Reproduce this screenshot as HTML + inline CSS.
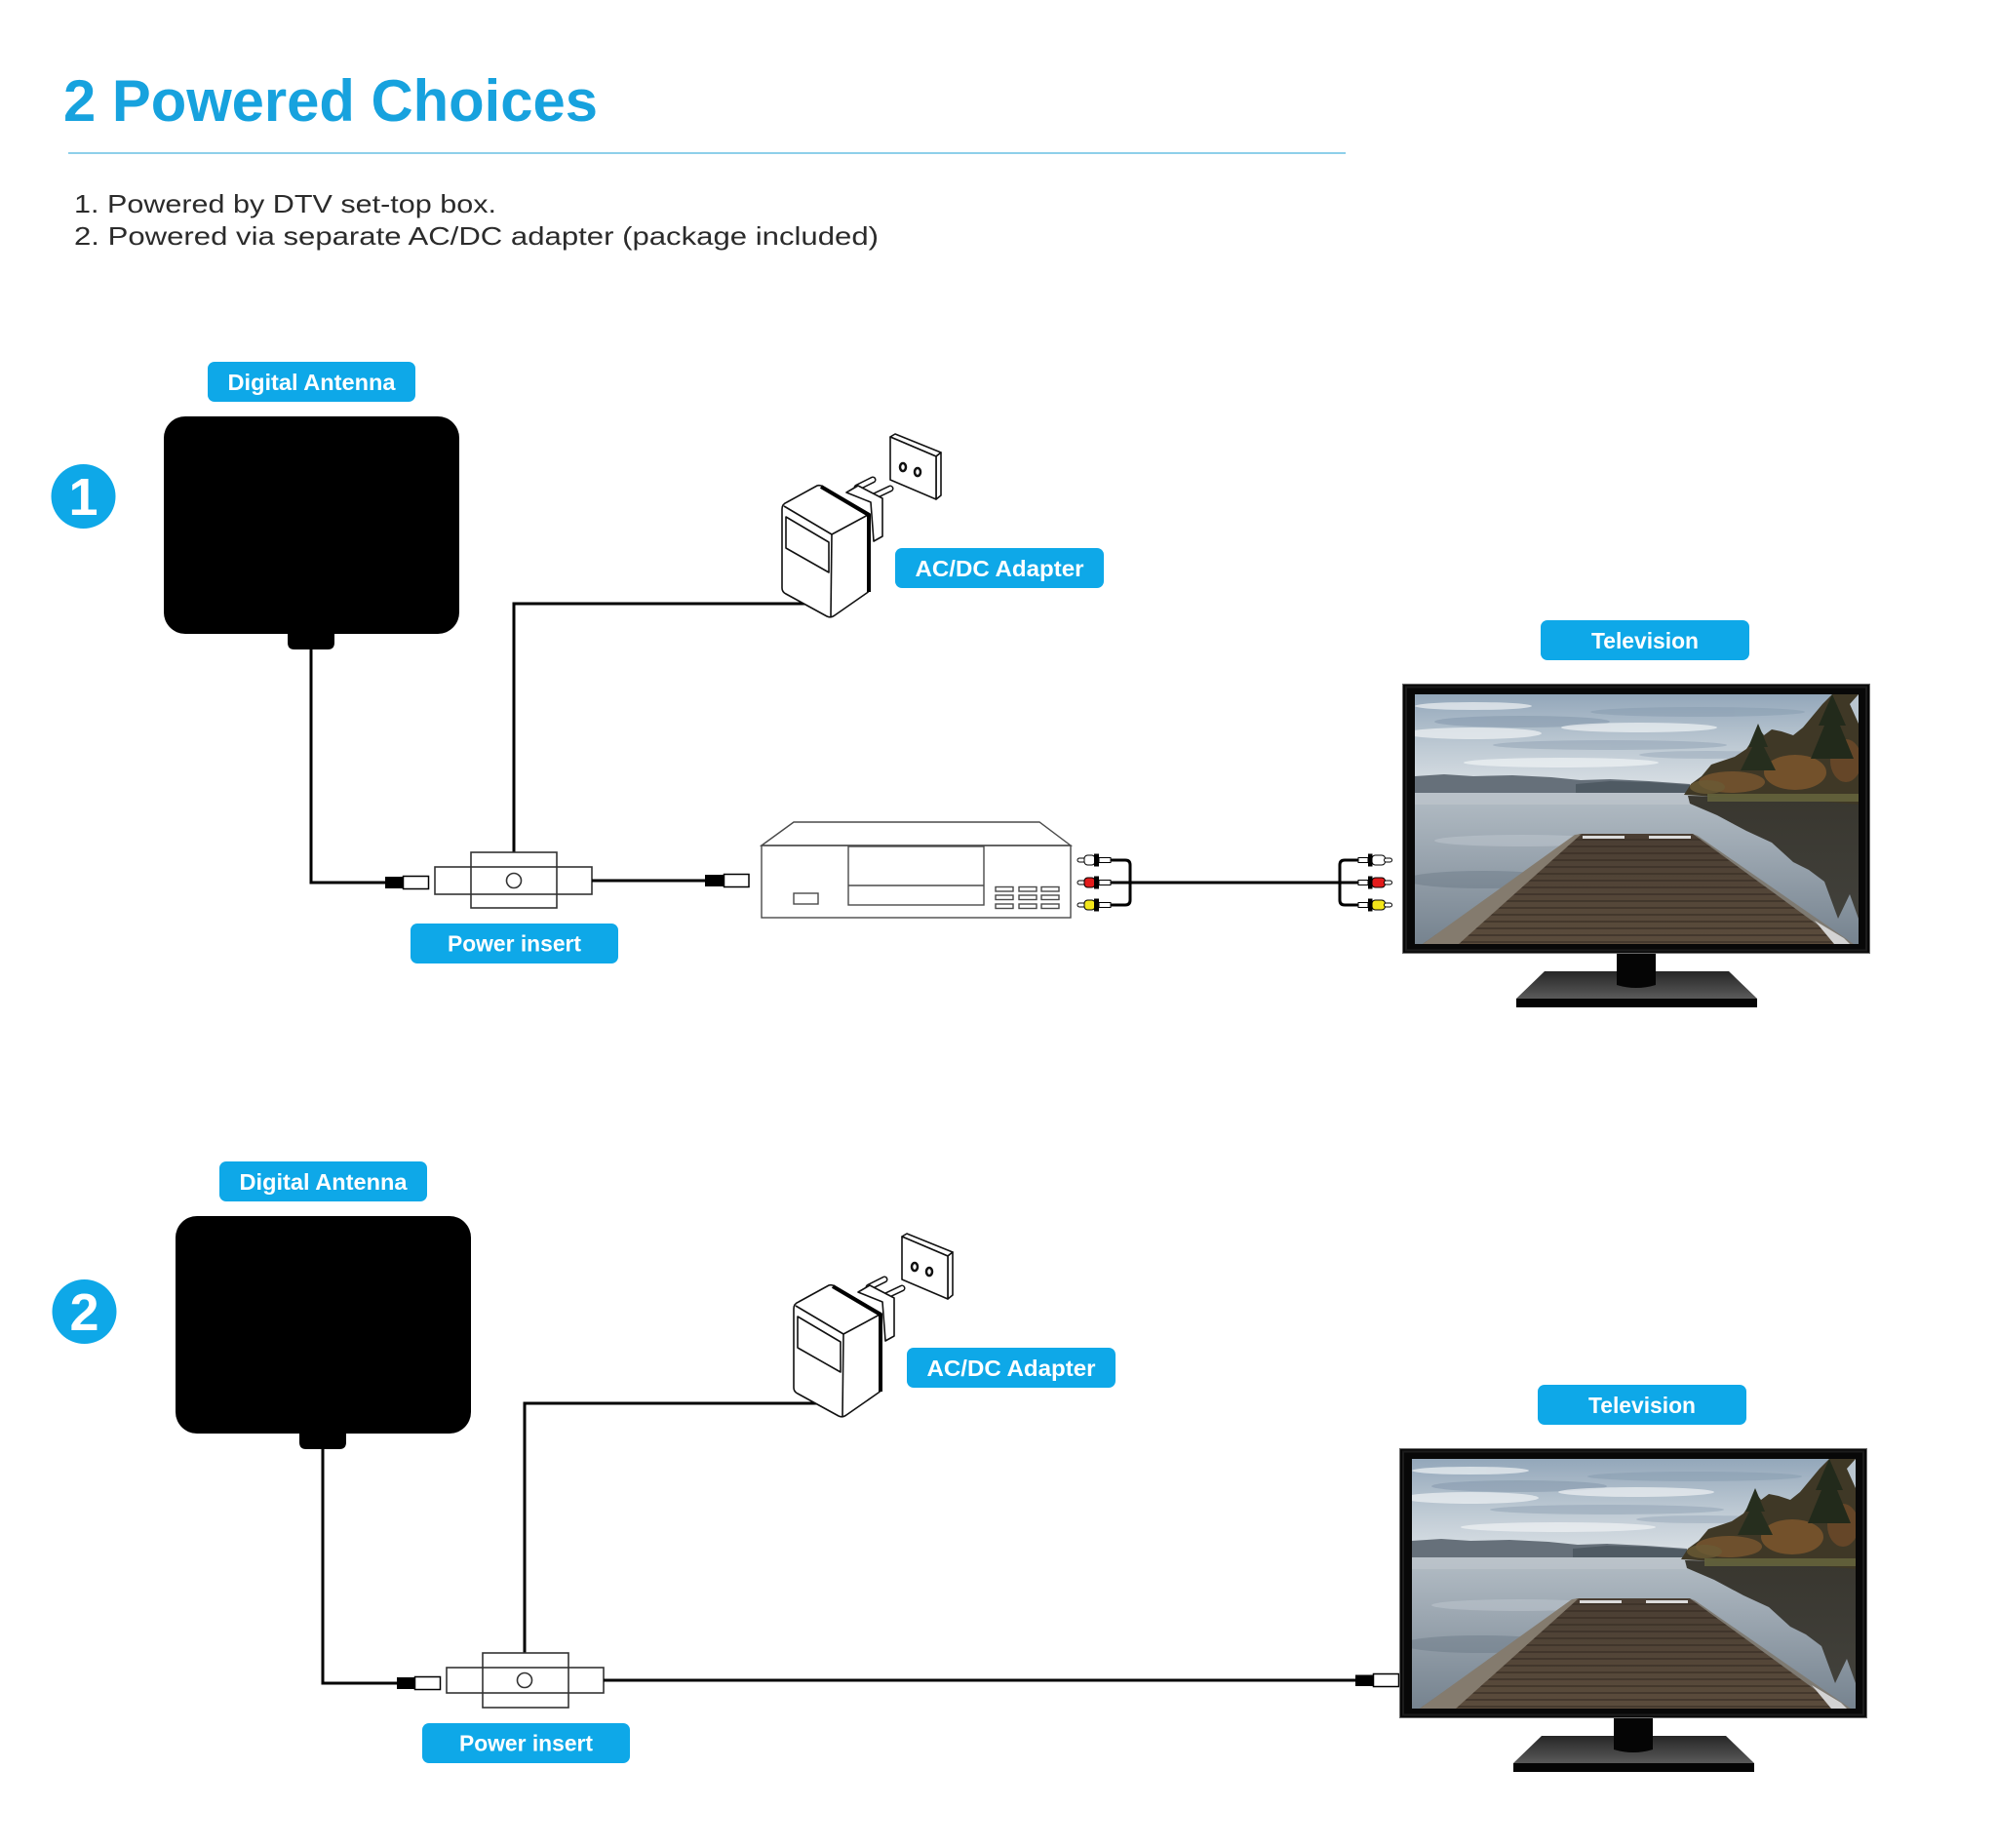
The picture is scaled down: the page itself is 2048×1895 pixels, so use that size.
<!DOCTYPE html>
<html><head><meta charset="utf-8">
<style>
html,body{margin:0;padding:0;background:#fff;}
svg{display:block;}
text{font-family:"Liberation Sans",Arial,sans-serif;}
.lbl{font-size:23px;font-weight:bold;fill:#fff;text-anchor:middle;}
</style></head><body>
<svg width="2048" height="1895" viewBox="0 0 2048 1895" xmlns="http://www.w3.org/2000/svg">
<defs>
 <linearGradient id="sky" x1="0" y1="0" x2="0" y2="1">
  <stop offset="0" stop-color="#93a7ba"/><stop offset="0.5" stop-color="#bdc9d3"/><stop offset="1" stop-color="#dfe4e8"/>
 </linearGradient>
 <linearGradient id="water" x1="0" y1="0" x2="0" y2="1">
  <stop offset="0" stop-color="#b3bdc5"/><stop offset="0.35" stop-color="#9ea9b3"/><stop offset="1" stop-color="#76838f"/>
 </linearGradient>
 <linearGradient id="baseg" x1="0" y1="0" x2="0" y2="1">
  <stop offset="0" stop-color="#262626"/><stop offset="1" stop-color="#5a5a5a"/>
 </linearGradient>
 <linearGradient id="pierg" x1="0" y1="0" x2="0" y2="1">
  <stop offset="0" stop-color="#4a3e33"/><stop offset="1" stop-color="#5b4c3c"/>
 </linearGradient>
 <linearGradient id="reflg" x1="0" y1="0" x2="0" y2="1">
  <stop offset="0" stop-color="#2e2b22"/><stop offset="1" stop-color="#3c3a33"/>
 </linearGradient>
 <clipPath id="scr"><rect x="0" y="0" width="455" height="256"/></clipPath>
 <clipPath id="pierc"><polygon points="169,143 285,143 444,256 8,256"/></clipPath>
 <g id="tv">
  <polygon points="146,295 335,295 364,323 117,323" fill="url(#baseg)"/>
  <rect x="117" y="323" width="247" height="9" fill="#050505"/>
  <path d="M220,270 H260 V309 Q240,315 220,309 Z" fill="#050505"/>
  <rect x="0.5" y="0.5" width="479" height="276" fill="#080808" stroke="#6d6d6d" stroke-width="1"/>
  <rect x="4" y="3.5" width="472" height="270" fill="none" stroke="#1c1c1c" stroke-width="2"/>
  <g transform="translate(13,11)">
   <g clip-path="url(#scr)">
    <rect width="455" height="105" fill="url(#sky)"/>
    <g opacity="0.45">
     <ellipse cx="110" cy="28" rx="90" ry="6" fill="#7d91a6"/>
     <ellipse cx="290" cy="18" rx="110" ry="5" fill="#8398ac"/>
     <ellipse cx="200" cy="52" rx="120" ry="5" fill="#8b9db0"/>
     <ellipse cx="300" cy="62" rx="70" ry="4" fill="#93a4b5"/>
    </g>
    <g opacity="0.7" fill="#f0f3f5">
     <ellipse cx="60" cy="40" rx="70" ry="6"/>
     <ellipse cx="230" cy="34" rx="80" ry="5"/>
     <ellipse cx="150" cy="70" rx="100" ry="5"/>
     <ellipse cx="60" cy="12" rx="60" ry="4"/>
    </g>
    <path d="M0,84 L30,82 60,84 100,83 140,85 170,88 200,87 240,89 282,92 282,103 0,103 Z" fill="#66707a"/>
    <path d="M165,92 L200,89 240,90 282,93 282,103 165,103 Z" fill="#4f5a63"/>
    <rect y="101" width="455" height="155" fill="url(#water)"/>
    <rect y="101" width="300" height="12" fill="#bfc7cd" opacity="0.6"/>
    <ellipse cx="70" cy="190" rx="80" ry="9" fill="#5f6d7a" opacity="0.35"/>
    <ellipse cx="110" cy="150" rx="90" ry="6" fill="#c8d0d6" opacity="0.4"/>
    <path d="M280,104 L455,108 455,230 446,205 434,230 420,192 404,180 388,172 366,152 340,140 310,124 282,112 Z" fill="url(#reflg)" opacity="0.92"/>
    <path d="M276,103 L283,92 294,84 304,72 316,68 328,64 340,56 348,44 352,34 358,42 366,36 376,38 388,42 398,34 408,22 418,10 428,0 455,0 455,113 420,110 380,108 330,106 Z" fill="#3f3826"/>
    <ellipse cx="325" cy="90" rx="34" ry="11" fill="#7b5630" opacity="0.8"/>
    <ellipse cx="390" cy="80" rx="32" ry="18" fill="#855a2e" opacity="0.75"/>
    <ellipse cx="442" cy="68" rx="16" ry="22" fill="#7a4f2a" opacity="0.65"/>
    <ellipse cx="300" cy="95" rx="18" ry="7" fill="#6a5a35" opacity="0.8"/>
    <polygon points="428,0 442,32 436,32 450,66 406,66 420,32 414,32" fill="#222a1b"/>
    <polygon points="352,30 362,54 358,54 370,78 334,78 346,54 342,54" fill="#262e1e"/>
    <polygon points="455,0 455,30 446,10" fill="#b9c5cf"/>
    <rect x="300" y="102" width="155" height="8" fill="#66653d" opacity="0.85"/>
    <polygon points="169,143 285,143 444,256 8,256" fill="url(#pierg)"/>
    <g clip-path="url(#pierc)">
     <path d="M0,149H455M0,156H455M0,163H455M0,170H455M0,177H455M0,184H455M0,191H455M0,198H455M0,205H455M0,212H455M0,219H455M0,226H455M0,233H455M0,240H455M0,247H455M0,254H455" stroke="#382e25" stroke-width="1.3" fill="none"/>
    </g>
    <polygon points="164,144 171,143 45,256 8,256" fill="#847b6e"/>
    <polygon points="285,143 290,145 450,256 440,256" fill="#7e7a72"/>
    <polygon points="410,232 440,250 446,256 430,256" fill="#d3d3d3"/>
    <rect x="172" y="145" width="43" height="3" fill="#dcdcdc"/>
    <rect x="240" y="145" width="43" height="3" fill="#dcdcdc"/>
   </g>
  </g>
 </g>
</defs>

<!-- Header -->
<text x="65" y="124" font-size="60" font-weight="bold" fill="#17a2de" textLength="548" lengthAdjust="spacingAndGlyphs">2 Powered Choices</text>
<line x1="70" y1="157" x2="1380" y2="157" stroke="#8ed0ea" stroke-width="2"/>
<text x="76" y="218" font-size="26" fill="#2b2b2b" textLength="433" lengthAdjust="spacingAndGlyphs">1. Powered by DTV set-top box.</text>
<text x="76" y="251" font-size="26" fill="#2b2b2b" textLength="825" lengthAdjust="spacingAndGlyphs">2. Powered via separate AC/DC adapter (package included)</text>

<!-- Number circles -->
<circle cx="85.5" cy="509" r="33" fill="#0ea8e8"/>
<text x="85.5" y="528" font-size="54" font-weight="bold" fill="#fff" text-anchor="middle">1</text>
<circle cx="86.5" cy="1345" r="33" fill="#0ea8e8"/>
<text x="86.5" y="1364" font-size="54" font-weight="bold" fill="#fff" text-anchor="middle">2</text>

<!-- ===== Section 1 left part ===== -->
<g>
 <rect x="213" y="371" width="213" height="41" rx="7" fill="#0ea8e8"/>
 <text class="lbl" x="319.5" y="400" textLength="172" lengthAdjust="spacingAndGlyphs">Digital Antenna</text>
 <rect x="168" y="427" width="303" height="223" rx="22" fill="#000"/>
 <path d="M295,640 H343 V659 Q343,666 336,666 H302 Q295,666 295,659 Z" fill="#000"/>
 <polyline points="319,664 319,905 397,905" fill="none" stroke="#000" stroke-width="3"/>
 <rect x="395" y="899" width="18" height="12" fill="#000"/>
 <rect x="413.5" y="898.5" width="26" height="13" fill="#fff" stroke="#000" stroke-width="1.5"/>
 <polyline points="527,874 527,619 828,619" fill="none" stroke="#000" stroke-width="3"/>
 <rect x="446" y="889" width="161" height="28" fill="none" stroke="#333" stroke-width="1.6"/>
 <rect x="483" y="874" width="88" height="57" fill="none" stroke="#333" stroke-width="1.6"/>
 <circle cx="527" cy="903" r="7.5" fill="none" stroke="#333" stroke-width="1.6"/>
 <rect x="421" y="947" width="213" height="41" rx="7" fill="#0ea8e8"/>
 <text class="lbl" x="527.5" y="975.5" textLength="137" lengthAdjust="spacingAndGlyphs">Power insert</text>
 <g stroke="#111" stroke-width="1.6" stroke-linejoin="round" fill="#fff">
  <polygon points="913,448 918,445 965,464 960,468"/>
  <polygon points="960,468 965,464 965,508 960,512"/>
  <polygon points="913,448 960,468 960,512 913,492"/>
  <ellipse cx="926" cy="479" rx="3" ry="4" stroke-width="2.5"/>
  <ellipse cx="941" cy="484" rx="3" ry="4" stroke-width="2.5"/>
  <line x1="879" y1="500" x2="895" y2="492" stroke-width="7" stroke-linecap="round"/>
  <line x1="879" y1="500" x2="895" y2="492" stroke="#fff" stroke-width="4" stroke-linecap="round"/>
  <line x1="894" y1="510" x2="913" y2="501" stroke-width="7" stroke-linecap="round"/>
  <line x1="894" y1="510" x2="913" y2="501" stroke="#fff" stroke-width="4" stroke-linecap="round"/>
  <polygon points="868,505 880,498 905,511 905,550 896,555 893,515"/>
  <path d="M802,522 Q802,517 807,515 L838,498 Q841,497 844,499 L892,527 L892,603 Q892,606 889,608 L856,631 Q852,634 848,632 L806,609 Q802,607 802,603 Z"/>
  <polyline points="804,519 853,548 892,527" fill="none"/>
  <line x1="853" y1="548" x2="852" y2="632"/>
  <polygon points="806,530 850,556 850,587 806,562" fill="none"/>
  <polyline points="842,499 891,528 891,607" fill="none" stroke="#000" stroke-width="4"/>
 </g>
 <rect x="918" y="562" width="214" height="41" rx="7" fill="#0ea8e8"/>
 <text class="lbl" x="1025" y="591" textLength="173" lengthAdjust="spacingAndGlyphs">AC/DC Adapter</text>
</g>

<!-- ===== Section 2 left part (shifted) ===== -->
<g transform="translate(12,820)">
 <rect x="213" y="371" width="213" height="41" rx="7" fill="#0ea8e8"/>
 <text class="lbl" x="319.5" y="400" textLength="172" lengthAdjust="spacingAndGlyphs">Digital Antenna</text>
 <rect x="168" y="427" width="303" height="223" rx="22" fill="#000"/>
 <path d="M295,640 H343 V659 Q343,666 336,666 H302 Q295,666 295,659 Z" fill="#000"/>
 <polyline points="319,664 319,906 397,906" fill="none" stroke="#000" stroke-width="3"/>
 <rect x="395" y="900" width="18" height="12" fill="#000"/>
 <rect x="413.5" y="899.5" width="26" height="13" fill="#fff" stroke="#000" stroke-width="1.5"/>
 <polyline points="526,875 526,619 828,619" fill="none" stroke="#000" stroke-width="3"/>
 <rect x="446" y="890" width="161" height="26" fill="none" stroke="#333" stroke-width="1.6"/>
 <rect x="483" y="875" width="88" height="56" fill="none" stroke="#333" stroke-width="1.6"/>
 <circle cx="526" cy="903" r="7.5" fill="none" stroke="#333" stroke-width="1.6"/>
 <rect x="421" y="947" width="213" height="41" rx="7" fill="#0ea8e8"/>
 <text class="lbl" x="527.5" y="975.5" textLength="137" lengthAdjust="spacingAndGlyphs">Power insert</text>
 <g stroke="#111" stroke-width="1.6" stroke-linejoin="round" fill="#fff">
  <polygon points="913,448 918,445 965,464 960,468"/>
  <polygon points="960,468 965,464 965,508 960,512"/>
  <polygon points="913,448 960,468 960,512 913,492"/>
  <ellipse cx="926" cy="479" rx="3" ry="4" stroke-width="2.5"/>
  <ellipse cx="941" cy="484" rx="3" ry="4" stroke-width="2.5"/>
  <line x1="879" y1="500" x2="895" y2="492" stroke-width="7" stroke-linecap="round"/>
  <line x1="879" y1="500" x2="895" y2="492" stroke="#fff" stroke-width="4" stroke-linecap="round"/>
  <line x1="894" y1="510" x2="913" y2="501" stroke-width="7" stroke-linecap="round"/>
  <line x1="894" y1="510" x2="913" y2="501" stroke="#fff" stroke-width="4" stroke-linecap="round"/>
  <polygon points="868,505 880,498 905,511 905,550 896,555 893,515"/>
  <path d="M802,522 Q802,517 807,515 L838,498 Q841,497 844,499 L892,527 L892,603 Q892,606 889,608 L856,631 Q852,634 848,632 L806,609 Q802,607 802,603 Z"/>
  <polyline points="804,519 853,548 892,527" fill="none"/>
  <line x1="853" y1="548" x2="852" y2="632"/>
  <polygon points="806,530 850,556 850,587 806,562" fill="none"/>
  <polyline points="842,499 891,528 891,607" fill="none" stroke="#000" stroke-width="4"/>
 </g>
 <rect x="918" y="562" width="214" height="41" rx="7" fill="#0ea8e8"/>
 <text class="lbl" x="1025" y="591" textLength="173" lengthAdjust="spacingAndGlyphs">AC/DC Adapter</text>
</g>

<!-- ===== Section 1 right part ===== -->
<line x1="607" y1="903" x2="724" y2="903" stroke="#000" stroke-width="3"/>
<rect x="723" y="897" width="19" height="12" fill="#000"/>
<rect x="742.5" y="896.5" width="25.5" height="13" fill="#fff" stroke="#000" stroke-width="1.5"/>

<!-- Set-top box -->
<g fill="none" stroke="#4a4a4a" stroke-width="1.4">
 <polygon points="781,867 814,843 1066,843 1098,867"/>
 <rect x="781" y="867" width="317" height="74"/>
 <rect x="870" y="868" width="139" height="60"/>
 <line x1="870" y1="908" x2="1009" y2="908"/>
 <rect x="814" y="916" width="25" height="11"/>
 <rect x="1021" y="909.5" width="18" height="4.5"/><rect x="1045" y="909.5" width="18" height="4.5"/><rect x="1068" y="909.5" width="18" height="4.5"/>
 <rect x="1021" y="918" width="18" height="4.5"/><rect x="1045" y="918" width="18" height="4.5"/><rect x="1068" y="918" width="18" height="4.5"/>
 <rect x="1021" y="927" width="18" height="4.5"/><rect x="1045" y="927" width="18" height="4.5"/><rect x="1068" y="927" width="18" height="4.5"/>
</g>

<!-- RCA cables -->
<path d="M1139,882 H1154 Q1159,882 1159,887 V923 Q1159,928 1154,928 H1139" fill="none" stroke="#000" stroke-width="3"/>
<line x1="1139" y1="905" x2="1393" y2="905" stroke="#000" stroke-width="3"/>
<path d="M1393,882 H1379 Q1374,882 1374,887 V923 Q1374,928 1379,928 H1393" fill="none" stroke="#000" stroke-width="3"/>

<!-- RCA plugs left -->
<g transform="translate(0,882)">
 <rect x="1105" y="-2" width="9" height="4" rx="2" fill="#fff" stroke="#000" stroke-width="1"/>
 <rect x="1112" y="-5" width="11" height="10" rx="3.5" fill="#fff" stroke="#000" stroke-width="1"/>
 <rect x="1122" y="-6.5" width="5" height="13" fill="#000"/>
 <rect x="1127" y="-2.5" width="12" height="5" fill="#fff" stroke="#000" stroke-width="1"/>
</g>
<g transform="translate(0,905)">
 <rect x="1105" y="-2" width="9" height="4" rx="2" fill="#fff" stroke="#000" stroke-width="1"/>
 <rect x="1112" y="-5" width="11" height="10" rx="3.5" fill="#e21b1b" stroke="#000" stroke-width="1"/>
 <rect x="1122" y="-6.5" width="5" height="13" fill="#000"/>
 <rect x="1127" y="-2.5" width="12" height="5" fill="#fff" stroke="#000" stroke-width="1"/>
</g>
<g transform="translate(0,928)">
 <rect x="1105" y="-2" width="9" height="4" rx="2" fill="#fff" stroke="#000" stroke-width="1"/>
 <rect x="1112" y="-5" width="11" height="10" rx="3.5" fill="#f3e61a" stroke="#000" stroke-width="1"/>
 <rect x="1122" y="-6.5" width="5" height="13" fill="#000"/>
 <rect x="1127" y="-2.5" width="12" height="5" fill="#fff" stroke="#000" stroke-width="1"/>
</g>
<!-- RCA plugs right -->
<g transform="translate(0,882)">
 <rect x="1393" y="-2.5" width="10" height="5" fill="#fff" stroke="#000" stroke-width="1"/>
 <rect x="1403" y="-6.5" width="4.5" height="13" fill="#000"/>
 <rect x="1407" y="-5" width="13.5" height="10" rx="3.5" fill="#fff" stroke="#000" stroke-width="1"/>
 <rect x="1419.5" y="-2" width="8" height="4" rx="2" fill="#fff" stroke="#000" stroke-width="1"/>
</g>
<g transform="translate(0,905)">
 <rect x="1393" y="-2.5" width="10" height="5" fill="#fff" stroke="#000" stroke-width="1"/>
 <rect x="1403" y="-6.5" width="4.5" height="13" fill="#000"/>
 <rect x="1407" y="-5" width="13.5" height="10" rx="3.5" fill="#e21b1b" stroke="#000" stroke-width="1"/>
 <rect x="1419.5" y="-2" width="8" height="4" rx="2" fill="#fff" stroke="#000" stroke-width="1"/>
</g>
<g transform="translate(0,928)">
 <rect x="1393" y="-2.5" width="10" height="5" fill="#fff" stroke="#000" stroke-width="1"/>
 <rect x="1403" y="-6.5" width="4.5" height="13" fill="#000"/>
 <rect x="1407" y="-5" width="13.5" height="10" rx="3.5" fill="#f3e61a" stroke="#000" stroke-width="1"/>
 <rect x="1419.5" y="-2" width="8" height="4" rx="2" fill="#fff" stroke="#000" stroke-width="1"/>
</g>

<!-- TV 1 -->
<rect x="1580" y="636" width="214" height="41" rx="7" fill="#0ea8e8"/>
<text class="lbl" x="1687" y="665" textLength="110" lengthAdjust="spacingAndGlyphs">Television</text>
<use href="#tv" x="1438" y="701"/>

<!-- ===== Section 2 right part ===== -->
<line x1="619" y1="1723" x2="1391" y2="1723" stroke="#000" stroke-width="3"/>
<rect x="1390" y="1717.5" width="18" height="11.5" fill="#000"/>
<rect x="1408.5" y="1716.5" width="26" height="13" fill="#fff" stroke="#000" stroke-width="1.5"/>

<rect x="1577" y="1420" width="214" height="41" rx="7" fill="#0ea8e8"/>
<text class="lbl" x="1684" y="1449" textLength="110" lengthAdjust="spacingAndGlyphs">Television</text>
<use href="#tv" x="1435" y="1485"/>
</svg>
</body></html>
